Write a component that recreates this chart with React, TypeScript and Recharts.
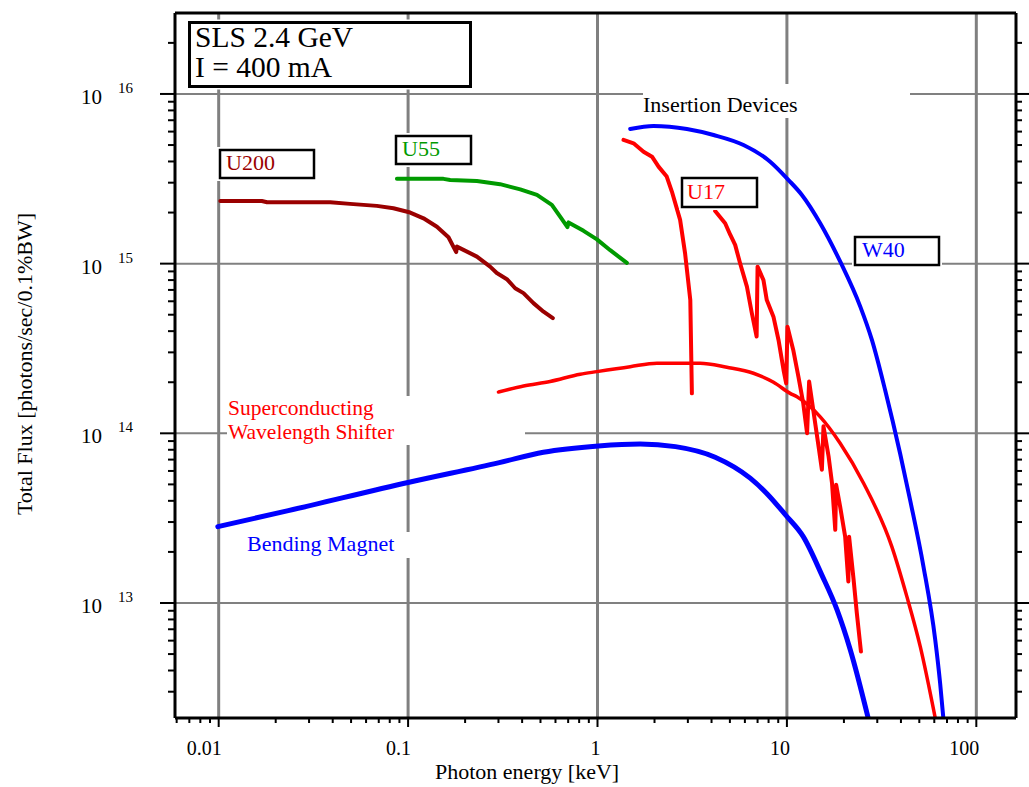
import { LineChart, Line, XAxis, YAxis, ReferenceLine } from "recharts";

const FONT = '"Liberation Serif", "Times New Roman", serif';

// axis ranges: photon energy [keV], total flux [photons/sec/0.1%BW]
const xDomain = [0.00588, 162];
const yDomain = [2.1e12, 3.0e16];
const xDecades = [0.01, 0.1, 1, 10, 100];
const yDecades = [1e13, 1e14, 1e15, 1e16];
const minorSteps = [1, 2, 3, 4, 5, 6, 7, 8, 9];

// U200 undulator
const u200Energy = [0.0102, 0.0169, 0.018, 0.0388, 0.0494, 0.0684, 0.0837, 0.1026, 0.1206, 0.142, 0.1634, 0.1795, 0.181, 0.2308, 0.271, 0.294, 0.3323, 0.3676, 0.4066, 0.459, 0.519, 0.581];
const u200Flux = [2.34e15, 2.34e15, 2.3e15, 2.3e15, 2.25e15, 2.19e15, 2.12e15, 2.0e15, 1.85e15, 1.65e15, 1.43e15, 1.17e15, 1.26e15, 1.1e15, 9.6e14, 8.8e14, 8.1e14, 7.16e14, 6.7e14, 5.85e14, 5.21e14, 4.77e14];

// U55 undulator
const u55Energy = [0.0873, 0.1538, 0.1668, 0.2308, 0.306, 0.391, 0.479, 0.574, 0.635, 0.694, 0.703, 0.844, 0.993, 1.167, 1.429];
const u55Flux = [3.16e15, 3.16e15, 3.11e15, 3.07e15, 2.94e15, 2.74e15, 2.54e15, 2.22e15, 1.89e15, 1.64e15, 1.75e15, 1.56e15, 1.39e15, 1.2e15, 1.01e15];

// U17 undulator, first harmonic branch
const u17aEnergy = [1.372, 1.55, 1.75, 1.94, 2.1, 2.32, 2.47, 2.73, 2.9, 3.09, 3.15];
const u17aFlux = [5.36e15, 5.12e15, 4.57e15, 4.27e15, 3.73e15, 3.26e15, 2.66e15, 1.81e15, 1.15e15, 6.1e14, 1.72e14];

// U17 undulator, higher harmonics
const u17bEnergy = [4.18, 4.72, 5.02, 5.33, 5.66, 6.15, 6.53, 6.92, 7.0, 7.52, 7.83, 8.49, 9.03, 9.6, 9.91, 10.07, 10.8, 11.5, 12.2, 12.78, 13.1, 14.7, 15.3, 15.6, 16.6, 17.3, 18.0, 18.2, 19.1, 20.3, 21.1, 21.3, 22.5, 23.4, 24.6];
const u17bFlux = [2.04e15, 1.73e15, 1.48e15, 1.29e15, 1.005e15, 7.32e14, 5.1e14, 3.72e14, 9.6e14, 8.0e14, 6.1e14, 4.87e14, 3.55e14, 2.36e14, 1.97e14, 4.25e14, 3.1e14, 2.16e14, 1.5e14, 1.0e14, 2.02e14, 8.35e13, 6.1e13, 1.1e14, 7.3e13, 5.1e13, 2.7e13, 4.97e13, 3.7e13, 2.46e13, 1.34e13, 2.46e13, 1.37e13, 8.7e12, 5.17e12];

// W40 wiggler
const w40Energy = [1.488, 1.976, 2.965, 4.1, 5.9, 8.16, 10.2, 12.0, 14.99, 19.1, 24.4, 28.1, 33.0, 39.6, 44.7, 52.6, 60.7, 64.4, 67.1];
const w40Flux = [6.22e15, 6.48e15, 6.22e15, 5.73e15, 5.0e15, 3.99e15, 3.11e15, 2.54e15, 1.73e15, 1.03e15, 5.58e14, 3.55e14, 1.8e14, 7.6e13, 4.05e13, 1.64e13, 6.06e12, 3.37e12, 2.05e12];

// superconducting wavelength shifter
const swlsEnergy = [0.3, 0.407, 0.562, 0.811, 0.993, 1.488, 2.06, 3.48, 4.82, 6.66, 8.5, 10.4, 11.3, 15.0, 19.1, 25.4, 35.8, 43.0, 50.6, 60.7];
const swlsFlux = [1.75e14, 1.9e14, 2.02e14, 2.23e14, 2.31e14, 2.47e14, 2.59e14, 2.59e14, 2.45e14, 2.26e14, 2.0e14, 1.72e14, 1.64e14, 1.25e14, 8.74e13, 5.08e13, 2.15e13, 1.09e13, 5.53e12, 2.1e12];

// bending magnet
const bmEnergy = [0.0099, 0.0233, 0.1013, 0.303, 0.518, 1.011, 1.68, 2.58, 4.18, 6.4, 7.94, 9.84, 12.2, 15.3, 18.4, 21.6, 27.0];
const bmFlux = [2.82e13, 3.5e13, 5.15e13, 6.72e13, 7.74e13, 8.43e13, 8.66e13, 8.35e13, 7.23e13, 5.44e13, 4.35e13, 3.3e13, 2.46e13, 1.46e13, 9.1e12, 5.3e12, 2.05e12];

const toPoints = (e: number[], f: number[]) => e.map((x, i) => ({ x, y: f[i] }));

const logTicks = (lo: number, hi: number) => {
  const out: number[] = [];
  for (let p = Math.floor(Math.log10(lo)); p <= Math.ceil(Math.log10(hi)); p++) {
    for (const k of minorSteps) {
      const v = k * Math.pow(10, p);
      if (v >= lo && v <= hi * 0.99) out.push(v);
    }
  }
  return out;
};

const xTicks = logTicks(xDomain[0], xDomain[1]);
const yTicks = logTicks(yDomain[0], yDomain[1]);

const isDecade = (v: number) => Math.abs(Math.log10(v) - Math.round(Math.log10(v))) < 1e-6;

const BottomTick = ({ x, y, payload }: any) => {
  const major = isDecade(payload.value);
  return (
    <g>
      <line x1={x} y1={y} x2={x} y2={y + (major ? 9 : 5)} stroke="#000" strokeWidth={2} />
      {major && (
        <text x={x + 3} y={y + 37} textAnchor="end" fontSize={20} fill="#000" fontFamily={FONT}>
          {String(payload.value)}
        </text>
      )}
    </g>
  );
};

const TopTick = ({ x, y, payload }: any) => {
  const major = isDecade(payload.value);
  return <line x1={x} y1={y} x2={x} y2={y - (major ? 9 : 5)} stroke="#000" strokeWidth={2} />;
};

const LeftTick = ({ x, y, payload }: any) => {
  const major = isDecade(payload.value);
  return (
    <g>
      <line x1={x} y1={y} x2={x - (major ? 15 : 7)} y2={y} stroke="#000" strokeWidth={2} />
      {major && (
        <>
          <text x={x - 73} y={y + 10} textAnchor="end" fontSize={21} fill="#000" fontFamily={FONT}>
            10
          </text>
          <text x={x - 57} y={y - 1} fontSize={15} fill="#000" fontFamily={FONT}>
            {Math.round(Math.log10(payload.value))}
          </text>
        </>
      )}
    </g>
  );
};

const RightTick = ({ x, y, payload }: any) => {
  const major = isDecade(payload.value);
  return <line x1={x} y1={y} x2={x + (major ? 13 : 6)} y2={y} stroke="#000" strokeWidth={2} />;
};

const axisLine = { stroke: "#000", strokeWidth: 3 };

const Box = ({ x, y, w, h, sw = 2.5 }: any) => (
  <g>
    <rect x={x - 3} y={y - 3} width={w + 6} height={h + 6} fill="#fff" />
    <rect x={x} y={y} width={w} height={h} fill="#fff" stroke="#000" strokeWidth={sw} />
  </g>
);

export default function App() {
  const series = [
    { name: "U200", data: toPoints(u200Energy, u200Flux), color: "#9a0000", width: 4, type: "linear" },
    { name: "U55", data: toPoints(u55Energy, u55Flux), color: "#009a00", width: 4, type: "linear" },
    { name: "U17a", data: toPoints(u17aEnergy, u17aFlux), color: "#ff0000", width: 4, type: "linear" },
    { name: "U17b", data: toPoints(u17bEnergy, u17bFlux), color: "#ff0000", width: 4, type: "linear" },
    { name: "W40", data: toPoints(w40Energy, w40Flux), color: "#0000ff", width: 4, type: "monotone" },
    { name: "SWLS", data: toPoints(swlsEnergy, swlsFlux), color: "#ff0000", width: 3.5, type: "monotone" },
    { name: "BM", data: toPoints(bmEnergy, bmFlux), color: "#0000ff", width: 5, type: "monotone" },
  ];

  return (
    <div style={{ position: "absolute", left: 0, top: 0, width: 1029, height: 787, fontFamily: FONT, background: "#fff" }}>
      <LineChart width={1029} height={787} margin={{ top: 0, right: 0, bottom: 0, left: 0 }}>
        <XAxis
          xAxisId="x"
          dataKey="x"
          type="number"
          scale="log"
          domain={xDomain}
          allowDataOverflow
          ticks={xTicks}
          interval={0}
          tick={(p: any) => <BottomTick {...p} />}
          tickLine={false}
          tickSize={0}
          tickMargin={0}
          axisLine={axisLine}
          height={69}
        />
        <XAxis
          xAxisId="top"
          orientation="top"
          type="number"
          scale="log"
          domain={xDomain}
          allowDataOverflow
          ticks={xTicks}
          interval={0}
          tick={(p: any) => <TopTick {...p} />}
          tickLine={false}
          tickSize={0}
          tickMargin={0}
          axisLine={axisLine}
          height={13}
        />
        <YAxis
          yAxisId="y"
          dataKey="y"
          type="number"
          scale="log"
          domain={yDomain}
          allowDataOverflow
          ticks={yTicks}
          interval={0}
          tick={(p: any) => <LeftTick {...p} />}
          tickLine={false}
          tickSize={0}
          tickMargin={0}
          axisLine={axisLine}
          width={175}
        />
        <YAxis
          yAxisId="right"
          orientation="right"
          type="number"
          scale="log"
          domain={yDomain}
          allowDataOverflow
          ticks={yTicks}
          interval={0}
          tick={(p: any) => <RightTick {...p} />}
          tickLine={false}
          tickSize={0}
          tickMargin={0}
          axisLine={axisLine}
          width={13}
        />
        {xDecades.map((v) => (
          <ReferenceLine key={"gx" + v} x={v} xAxisId="x" yAxisId="y" stroke="#808080" strokeWidth={3} zIndex={-50} />
        ))}
        {yDecades.map((v) => (
          <ReferenceLine key={"gy" + v} y={v} xAxisId="x" yAxisId="y" stroke="#808080" strokeWidth={2} zIndex={-50} />
        ))}
        {series.map((s) => (
          <Line
            key={s.name}
            xAxisId="x"
            yAxisId="y"
            data={s.data}
            dataKey="y"
            type={s.type as any}
            stroke={s.color}
            strokeWidth={s.width}
            strokeLinejoin="round"
            strokeLinecap="round"
            dot={false}
            activeDot={false}
            isAnimationActive={false}
          />
        ))}
      </LineChart>

      <svg
        width={1029}
        height={787}
        style={{ position: "absolute", left: 0, top: 0, pointerEvents: "none" }}
        fontFamily={FONT}
      >
        {/* beam parameters */}
        <Box x={189.5} y={22.5} w={281} h={64} sw={3} />
        <text x={195} y={47} fontSize={29.5} fill="#000">SLS 2.4 GeV</text>
        <text x={195} y={77} fontSize={29.5} fill="#000">I = 400 mA</text>

        {/* group label */}
        <rect x={643} y={84} width={267} height={34} fill="#fff" />
        <text x={643} y={112} fontSize={22} fill="#000">Insertion Devices</text>

        {/* device tags */}
        <Box x={220} y={150} w={94} h={28} />
        <text x={226} y={170} fontSize={22} fill="#9a0000">U200</text>
        <Box x={396} y={136} w={75} h={28} />
        <text x={402} y={156} fontSize={22} fill="#009a00">U55</text>
        <Box x={682} y={178} w={75} h={29} />
        <text x={687} y={199} fontSize={22} fill="#ff0000">U17</text>
        <Box x={855} y={237} w={84} h={28} />
        <text x={862} y={257} fontSize={22} fill="#0000ff">W40</text>

        <rect x={227} y={396} width={298} height={49} fill="#fff" />
        <text x={228} y={415} fontSize={21.5} fill="#ff0000">Superconducting</text>
        <text x={228} y={439} fontSize={21.5} fill="#ff0000">Wavelength Shifter</text>

        <rect x={240} y={532} width={172} height={26} fill="#fff" />
        <text x={247} y={551} fontSize={22} fill="#0000ff">Bending Magnet</text>

        {/* axis titles */}
        <text x={435} y={779} fontSize={22} fill="#000">Photon energy [keV]</text>
        <text x={31.5} y={364} fontSize={22} fill="#000" textAnchor="middle" transform="rotate(-90 31.5 364)">
          Total Flux [photons/sec/0.1%BW]
        </text>
      </svg>
    </div>
  );
}
